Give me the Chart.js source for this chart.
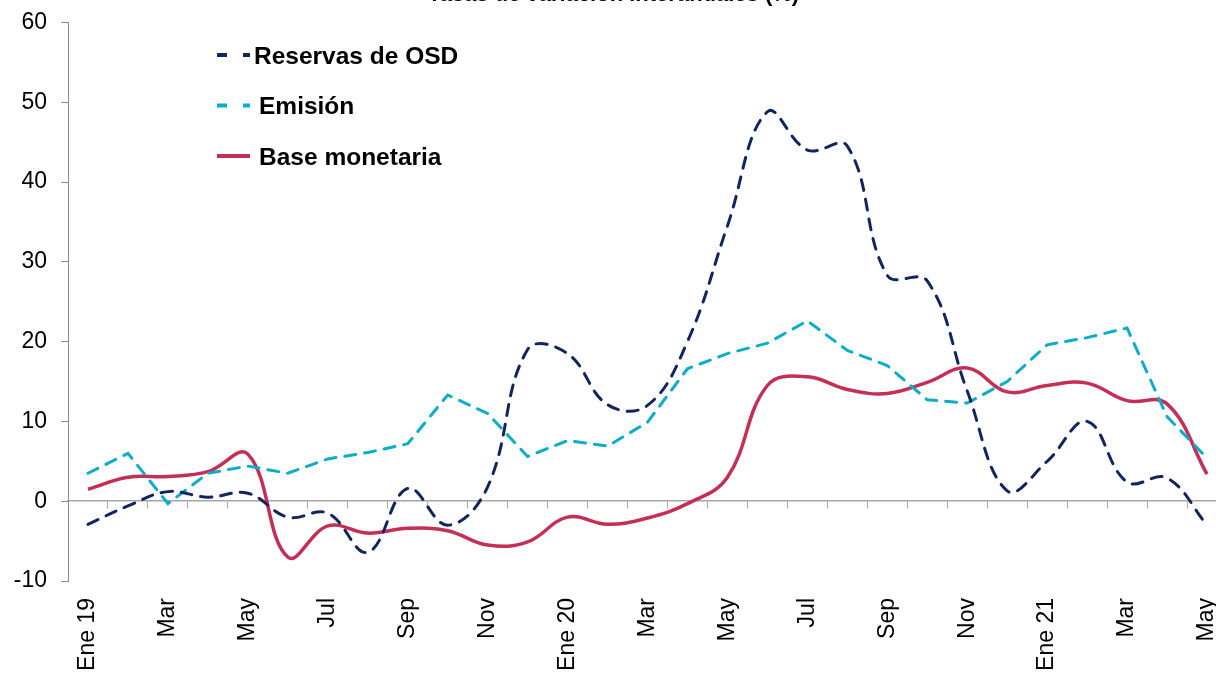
<!DOCTYPE html>
<html>
<head>
<meta charset="utf-8">
<title>Tasas de variación interanuales</title>
<script src="https://cdn.jsdelivr.net/npm/chart.js@4.4.1/dist/chart.umd.min.js"></script>
<style>
  html, body { margin: 0; padding: 0; background: #fff; overflow: hidden; }
  #wrap { position: absolute; left: 0; top: -18px; }
</style>
</head>
<body>
<div id="wrap"><canvas id="chart" width="1282" height="700"></canvas></div>
<script>
// months Ene 19 .. May 21, only every other one is labelled
const categories = ['Ene 19', 'Feb', 'Mar', 'Abr', 'May', 'Jun', 'Jul', 'Ago', 'Sep', 'Oct', 'Nov', 'Dic',
    'Ene 20', 'Feb', 'Mar', 'Abr', 'May', 'Jun', 'Jul', 'Ago', 'Sep', 'Oct', 'Nov', 'Dic',
    'Ene 21', 'Feb', 'Mar', 'Abr', 'May'];

const reservas = [-2.9, -0.6, 1.2, 0.5, 1.0, -2.0, -1.5, -6.4, 1.6, -3.0, 1.8, 19.0,
    18.5, 12.1, 12.0, 20.0, 34.5, 48.8, 44.0, 44.5, 28.3, 27.6, 13.8, 1.3,
    5.0, 10.0, 2.4, 2.9, -3.0];

const emision = [3.5, 6.0, -0.3, 3.5, 4.4, 3.5, 5.3, 6.1, 7.2, 13.3, 11.0, 5.6,
    7.6, 6.9, 9.9, 16.6, 18.5, 19.8, 22.6, 18.9, 17.0, 12.7, 12.3, 15.0,
    19.6, 20.5, 21.7, 10.6, 5.4];

const base = [1.5, 3.0, 3.1, 3.7, 5.9, -7.0, -3.1, -4.0, -3.4, -3.7, -5.5, -5.1,
    -2.0, -2.9, -2.1, -0.3, 3.0, 14.5, 15.6, 14.0, 13.5, 14.9, 16.7, 13.7,
    14.5, 14.8, 12.6, 12.2, 3.4];

const yMin = -10;
const yMax = 60;
const yStep = 10;

const FONT = '"Liberation Sans", Arial, sans-serif';

// legend drawn inside the plot, top-left
const insideLegend = {
    id: 'insideLegend',
    afterDraw(chart) {
        const ctx = chart.ctx;
        ctx.save();
        ctx.font = 'bold 24.5px ' + FONT;
        ctx.textBaseline = 'alphabetic';
        chart.data.datasets.forEach((ds, i) => {
            const y = 73 + i * 50.5;
            ctx.strokeStyle = ds.borderColor;
            ctx.lineWidth = 3.8;
            ctx.lineCap = 'butt';
            ctx.setLineDash(ds.borderDash && ds.borderDash.length ? [10, 16] : []);
            ctx.beginPath();
            ctx.moveTo(217, y);
            ctx.lineTo(250, y);
            ctx.stroke();
            ctx.setLineDash([]);
            ctx.fillStyle = '#000';
            ctx.fillText(ds.label, i === 0 ? 254 : 259, y + 8.5);
        });
        ctx.restore();
    }
};

const ctx = document.getElementById('chart').getContext('2d');
new Chart(ctx, {
    type: 'line',
    data: {
        labels: categories,
        datasets: [{
            label: 'Reservas de OSD',
            data: reservas,
            borderColor: '#13255f',
            borderWidth: 3,
            borderDash: [11, 9],
            borderCapStyle: 'round',
            tension: 0.4,
            pointRadius: 0,
            fill: false
        }, {
            label: 'Emisión',
            data: emision,
            borderColor: '#0badc8',
            borderWidth: 3,
            borderDash: [11, 9],
            borderCapStyle: 'round',
            tension: 0,
            pointRadius: 0,
            fill: false
        }, {
            label: 'Base monetaria',
            data: base,
            borderColor: '#c32f55',
            borderWidth: 3.5,
            tension: 0.4,
            pointRadius: 0,
            fill: false
        }]
    },
    options: {
        responsive: false,
        animation: false,
        devicePixelRatio: 1,
        layout: { padding: { left: 0, right: 55, top: 0, bottom: 10 } },
        plugins: {
            legend: { display: false },
            tooltip: { enabled: false },
            title: {
                display: true,
                text: 'Tasas de variación interanuales (%)',
                color: '#000',
                font: { size: 22, weight: 'bold', family: FONT },
                padding: { top: 0, bottom: 14 }
            }
        },
        scales: {
            x: {
                type: 'category',
                offset: true,
                grid: { display: false, drawTicks: false },
                border: { display: false },
                ticks: {
                    autoSkip: false,
                    maxRotation: 90,
                    minRotation: 90,
                    padding: 17,
                    color: '#000',
                    font: { size: 23, family: FONT },
                    callback: (v, i) => (i % 2 === 0 ? categories[i] : '')
                },
                afterFit(scale) { scale.height = 91; }
            },
            x2: {
                type: 'category',
                position: { y: 0 },
                offset: true,
                grid: { drawOnChartArea: false, offset: true, tickLength: 7, color: '#a6a6a6' },
                border: { color: '#a6a6a6', width: 1.5 },
                ticks: { display: false }
            },
            y: {
                min: yMin,
                max: yMax,
                ticks: {
                    stepSize: yStep,
                    padding: 14,
                    color: '#000',
                    font: { size: 23, family: FONT }
                },
                grid: { drawOnChartArea: false, tickLength: 7, color: '#8c8c8c' },
                border: { color: '#8c8c8c', width: 1 },
                afterFit(scale) { scale.width = 68; }
            }
        }
    },
    plugins: [insideLegend]
});
</script>
</body>
</html>
